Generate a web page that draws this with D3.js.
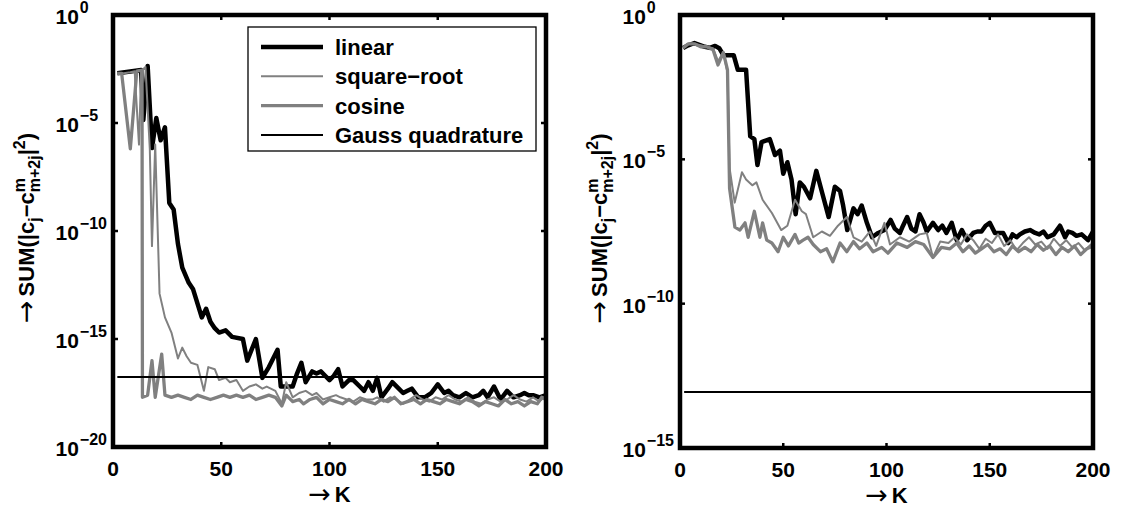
<!DOCTYPE html>
<html lang="en">
<head>
<meta charset="UTF-8">
<title>Coefficient error vs K</title>
<style>
  body { margin: 0; background: #fff; }
  svg { font-family: "Liberation Sans", Arial, sans-serif; }
</style>
</head>
<body>
<div id="chart"></div>
<script src="https://cdn.jsdelivr.net/npm/d3@7/dist/d3.min.js"></script>
<script>
// data: [K, log10(value)]
const leftLinear = [[2,-2.7],[13,-2.55],[14,-4.86],[16,-2.36],[18,-6.16],[20,-4.77],[22,-5.8],[24,-5.2],[26,-8.7],[28,-9.0],
  [30,-10.6],[32,-11.7],[35,-12.4],[37,-12.7],[41,-14.0],[43,-13.6],[45,-14.2],[47,-14.5],[49,-14.7],[52,-14.6],[55,-14.9],
  [60,-15.0],[62,-16.0],[66,-15.0],[69,-16.8],[72,-16.3],[76,-15.5],[77.5,-17.2],[81,-17.2],[83,-17.2],[85,-16.6],[87,-16.1],
  [89,-17.0],[92,-16.5],[94,-16.6],[96,-16.5],[98,-16.7],[100,-16.9],[102,-16.7],[104,-16.4],[106,-17.2],[109,-16.9],
  [111,-16.9],[114,-17.2],[116,-17.4],[118,-17.0],[120,-17.4],[122,-16.8],[124,-17.7],[127,-17.3],[129,-17.0],[132,-17.3],
  [134,-17.5],[136,-17.4],[138,-17.3],[141,-17.7],[144,-17.7],[147,-17.5],[150,-17.1],[153,-17.5],[155,-17.4],[157,-17.6],
  [160,-17.7],[163,-17.5],[166,-17.7],[169,-17.6],[171,-17.4],[173,-17.7],[176,-17.2],[179,-17.8],[182,-17.4],[185,-17.7],
  [188,-17.6],[190,-17.5],[192,-17.6],[194,-17.6],[197,-17.7],[200,-17.6]];
const leftSqrt = [[2,-2.7],[5,-2.7],[8,-2.65],[10,-2.6],[12,-6.0],[13,-2.6],[15,-2.4],[17,-6.2],[18,-10.7],[19.5,-6.0],
  [21.5,-12.9],[24,-14.0],[27,-14.7],[30,-15.9],[32,-15.4],[34,-15.8],[36,-16.1],[39,-16.2],[42,-17.4],[44,-16.3],[47,-16.4],
  [49,-16.9],[52,-16.8],[54,-17.0],[57,-16.9],[60,-17.4],[63,-17.2],[66,-17.1],[69,-17.3],[71,-17.2],[75,-17.4],[78,-18.0],
  [80,-17.0],[83,-17.7],[86,-17.5],[89,-17.4],[92,-17.6],[94,-17.5],[97,-17.8],[100,-17.7],[103,-17.6],[105,-17.7],
  [108,-17.8],[111,-17.9],[114,-17.7],[117,-17.8],[120,-17.8],[122,-17.7],[125,-17.9],[128,-17.7],[131,-17.8],[134,-18.0],
  [137,-17.8],[140,-17.6],[143,-17.8],[146,-17.9],[149,-17.7],[152,-17.8],[155,-17.6],[158,-17.8],[161,-17.9],[164,-17.7],
  [167,-17.9],[170,-18.0],[173,-17.8],[176,-17.7],[179,-17.9],[182,-17.8],[185,-17.6],[188,-17.8],[191,-17.9],[194,-17.7],
  [197,-17.9],[200,-17.6]];
const leftCosine = [[2,-2.7],[4,-2.7],[8,-6.2],[11,-2.6],[13.4,-2.55],[13.6,-17.7],[16,-17.6],[18,-16.0],[19.5,-17.7],
  [22.5,-15.7],[24,-17.6],[27,-17.7],[30,-17.6],[33,-17.7],[36,-17.8],[39,-17.6],[42,-17.7],[45,-17.8],[48,-17.7],[51,-17.6],
  [54,-17.7],[57,-17.6],[60,-17.7],[63,-17.6],[66,-17.8],[69,-17.7],[72,-17.6],[75,-17.7],[78,-18.1],[80,-17.6],[83,-17.9],
  [86,-17.8],[88,-18.0],[91,-17.8],[94,-17.7],[97,-18.0],[100,-17.8],[103,-17.9],[106,-18.0],[109,-17.8],[112,-18.0],
  [115,-17.8],[118,-17.9],[121,-18.0],[124,-17.8],[127,-17.9],[130,-17.7],[133,-18.0],[136,-17.9],[139,-17.8],[142,-18.0],
  [145,-17.8],[148,-17.9],[151,-18.0],[154,-17.8],[157,-17.9],[160,-18.0],[163,-17.8],[166,-17.9],[169,-18.1],[172,-17.9],
  [175,-18.0],[178,-18.1],[181,-17.8],[184,-18.0],[187,-17.9],[190,-18.1],[193,-17.9],[196,-18.0],[198,-17.7],[200,-17.8]];
const leftGauss = [[2,-16.76],[200,-16.76]];

const rightLinear = [[1.5,-1.14],[4,-1.05],[7,-0.97],[10,-1.05],[12,-1.1],[14.5,-1.14],[17,-1.07],[19,-1.15],[21,-1.39],
  [26,-1.39],[28,-1.9],[32,-1.9],[34,-4.2],[36,-4.3],[37.5,-5.2],[39.5,-4.4],[41.5,-4.35],[43.5,-4.3],[46,-4.85],[48.4,-4.7],
  [50,-5.5],[52,-5.1],[54,-5.7],[56,-6.9],[58,-5.8],[60,-5.95],[63,-6.35],[66,-5.4],[69,-6.2],[72,-7.0],[75,-5.95],
  [77.5,-6.1],[79,-6.6],[81,-7.45],[84,-6.7],[86,-6.9],[88,-6.6],[90.5,-7.2],[93,-7.7],[96,-7.55],[99,-7.45],[102,-7.1],
  [104,-7.4],[106.5,-7.55],[108,-7.3],[110,-7.0],[112,-7.4],[114,-7.5],[116,-6.9],[118,-7.2],[119.5,-7.5],[122.5,-7.2],
  [125,-7.45],[127,-7.3],[129,-7.55],[131.6,-7.2],[134,-7.8],[136.5,-7.45],[139,-7.8],[142,-7.55],[144,-7.5],[146,-7.5],
  [148,-7.3],[150,-7.2],[152.5,-7.55],[156.5,-7.55],[159,-7.9],[161,-7.6],[163,-7.7],[164.6,-7.6],[167,-7.5],[169.5,-7.45],
  [172,-7.55],[174,-7.6],[176,-7.5],[178,-7.7],[181,-7.6],[184,-7.3],[186.5,-7.7],[188,-7.5],[190,-7.55],[192,-7.65],
  [194.5,-7.6],[197.6,-7.8],[200,-7.5]];
const rightSqrt = [[1.5,-1.14],[4,-1.0],[7,-1.0],[10,-1.05],[13,-1.1],[16,-1.15],[18.4,-1.6],[21,-1.3],[23,-2.0],[24,-5.3],
  [26.5,-6.5],[30,-5.45],[32,-5.7],[35,-5.9],[37,-5.8],[40,-6.4],[44.5,-6.86],[49,-7.45],[52,-7.3],[55.7,-6.4],[59,-6.8],
  [61,-6.9],[64.5,-7.7],[68.7,-7.5],[72.6,-7.65],[76.5,-7.3],[80.8,-7.0],[84,-7.7],[88,-7.85],[92,-7.5],[95,-8.0],[99,-7.2],
  [101.7,-7.95],[106.5,-7.7],[111,-7.85],[116,-7.6],[119.5,-7.55],[122.5,-8.4],[126,-7.85],[130,-7.9],[133,-7.7],[136,-7.95],
  [139,-7.6],[142,-7.8],[145,-8.1],[148,-7.75],[151,-7.9],[154,-7.6],[157,-8.0],[160,-7.8],[163,-8.15],[166,-7.9],[169,-7.7],
  [172,-7.95],[175,-7.85],[178,-8.1],[181,-7.75],[184,-8.0],[187,-7.8],[190,-8.05],[193,-7.9],[196,-8.15],[199,-7.95],[200,-7.9]];
const rightCosine = [[1.5,-1.14],[4,-1.0],[7,-1.0],[10,-1.1],[13,-1.1],[16,-1.2],[18.4,-1.73],[21,-1.3],[23,-1.9],[24,-6.0],
  [26.6,-7.35],[29,-7.45],[31.5,-7.2],[33,-7.7],[36,-6.8],[38.7,-7.7],[40,-7.2],[42,-7.8],[44.5,-7.9],[47.5,-8.2],[50,-7.7],
  [52.5,-8.0],[55.7,-7.6],[57.5,-7.9],[59.6,-7.8],[62,-7.7],[64.5,-7.95],[68,-8.2],[71,-8.1],[74,-8.55],[77.5,-7.9],
  [80.8,-8.2],[84,-7.85],[87,-8.1],[90.5,-7.9],[93.5,-8.2],[97.7,-8.05],[100.7,-8.25],[105,-7.9],[110,-8.05],[114,-7.85],
  [118,-7.95],[122.5,-8.4],[126.6,-8.05],[130.7,-8.1],[134,-7.9],[137,-8.2],[140,-8.0],[143,-8.25],[146,-8.1],[149,-7.95],
  [152,-8.2],[155,-8.1],[158,-8.3],[161,-8.0],[164,-8.2],[167,-8.05],[170,-8.2],[173,-7.95],[176,-8.15],[179,-8.0],
  [182,-8.3],[185,-8.05],[188,-8.2],[191,-8.0],[194,-8.3],[197,-8.1],[200,-8.0]];
const rightGauss = [[2,-13.06],[200,-13.06]];

const legendLabels = ["linear", "square\u2212root", "cosine", "Gauss quadrature"];
const xTicks = [0, 50, 100, 150, 200];
const leftYExps = [0, -5, -10, -15, -20];
const rightYExps = [0, -5, -10, -15];

const styles = [
  {color: "#000", width: 4.5},
  {color: "#808080", width: 2},
  {color: "#808080", width: 3.3},
  {color: "#000", width: 1.8}
];

const svg = d3.select("#chart").append("svg")
  .attr("width", 1145).attr("height", 510);

const minus = s => String(s).replace("-", "\u2212");

// lays out a row of text pieces, returns its width
function rich(g, pieces) {
  let x = 0;
  pieces.forEach(p => {
    const a = g.append("text").attr("x", x).attr("y", p.dy || 0)
      .style("font-size", p.size + "px").style("font-weight", p.w || "bold").text(p.t);
    if (p.font) a.style("font-family", p.font);
    let w = a.node().getComputedTextLength();
    if (p.t2) {
      const b = g.append("text").attr("x", x).attr("y", p.dy2)
        .style("font-size", p.size + "px").style("font-weight", "bold").text(p.t2);
      w = Math.max(w, b.node().getComputedTextLength());
    }
    x += w + (p.gap || 0);
  });
  return x;
}

function centered(parent, transform, pieces) {
  const g = parent.append("g").attr("transform", transform);
  const inner = g.append("g");
  const w = rich(inner, pieces);
  inner.attr("transform", `translate(${-w / 2},0)`);
}

const arrow = {t: "\u2192", size: 27, w: "normal", font: "DejaVu Sans", dy: 1, gap: 4};
const yLabelPieces = [
  arrow,
  {t: "SUM(|c", size: 22},
  {t: "j", size: 16, dy: 6},
  {t: "\u2212c", size: 22},
  {t: "m", size: 16, dy: -9, t2: "m+2j", dy2: 6},
  {t: "|", size: 22},
  {t: "2", size: 16, dy: -9},
  {t: ")", size: 22}
];
const xLabelPieces = [arrow, {t: "K", size: 22}];

function panel(id, box, exps, series, gauss, opts) {
  const x = d3.scaleLinear().domain([0, 200]).range([box.left, box.right]);
  const y = d3.scaleLog().domain([Math.pow(10, d3.min(exps)), 1]).range([box.bottom, box.top]);
  const g = svg.append("g");

  g.append("clipPath").attr("id", id).append("rect")
    .attr("x", box.left).attr("y", box.top)
    .attr("width", box.right - box.left).attr("height", box.bottom - box.top);

  const line = d3.line().x(d => x(d[0])).y(d => y(Math.pow(10, d[1])));
  const all = series.concat([gauss]);
  all.forEach((s, i) => {
    g.append("path").datum(s)
      .attr("clip-path", `url(#${id})`)
      .attr("fill", "none")
      .attr("stroke", styles[i].color)
      .attr("stroke-width", styles[i].width)
      .attr("stroke-linejoin", "round")
      .attr("d", line);
  });

  // inward ticks on all sides
  const tl = 5;
  xTicks.slice(1, -1).forEach(t => {
    g.append("line").attr("x1", x(t)).attr("x2", x(t)).attr("y1", box.bottom).attr("y2", box.bottom - tl)
      .attr("stroke", "#000").attr("stroke-width", 2.5);
    g.append("line").attr("x1", x(t)).attr("x2", x(t)).attr("y1", box.top).attr("y2", box.top + tl)
      .attr("stroke", "#000").attr("stroke-width", 2.5);
  });
  exps.slice(1, -1).forEach(e => {
    const yy = y(Math.pow(10, e));
    g.append("line").attr("x1", box.left).attr("x2", box.left + tl).attr("y1", yy).attr("y2", yy)
      .attr("stroke", "#000").attr("stroke-width", 2.5);
    g.append("line").attr("x1", box.right).attr("x2", box.right - tl).attr("y1", yy).attr("y2", yy)
      .attr("stroke", "#000").attr("stroke-width", 2.5);
  });

  g.append("rect")
    .attr("x", box.left).attr("y", box.top)
    .attr("width", box.right - box.left).attr("height", box.bottom - box.top)
    .attr("fill", "none").attr("stroke", "#000").attr("stroke-width", 4.5);

  // x tick labels
  xTicks.forEach(t => {
    g.append("text").attr("x", x(t)).attr("y", box.bottom + 29)
      .attr("text-anchor", "middle")
      .style("font-size", "21px").style("font-weight", "bold").text(t);
  });

  // y tick labels: 10 with exponent, left-aligned column
  const labels = exps.map(e => {
    const lg = g.append("g");
    const w = rich(lg, [{t: "10", size: 21, dy: 9, gap: 1}, {t: minus(e), size: 16, dy: -2}]);
    return {lg, w, e};
  });
  const maxW = d3.max(labels, d => d.w);
  labels.forEach(d => {
    d.lg.attr("transform", `translate(${box.left - 6 - maxW},${y(Math.pow(10, d.e))})`);
  });

  centered(g, `translate(${(box.left + box.right) / 2},${box.bottom + 55})`, xLabelPieces);
  centered(g, `translate(${opts.ylabelX},${(box.top + box.bottom) / 2 - 3}) rotate(-90)`, yLabelPieces);

  return {x, y};
}

panel("clipL", {left: 113, right: 546, top: 15, bottom: 447}, leftYExps,
  [leftLinear, leftSqrt, leftCosine], leftGauss, {ylabelX: 34});
panel("clipR", {left: 680, right: 1093, top: 15, bottom: 448}, rightYExps,
  [rightLinear, rightSqrt, rightCosine], rightGauss, {ylabelX: 607});

// legend
const lg = svg.append("g");
lg.append("rect").attr("x", 248).attr("y", 27).attr("width", 288).attr("height", 124)
  .attr("fill", "#fff").attr("stroke", "#000").attr("stroke-width", 1.3);
const rowY = d3.scalePoint().domain(legendLabels).range([47, 135]);
legendLabels.forEach((name, i) => {
  const yy = rowY(name);
  lg.append("line").attr("x1", 261).attr("x2", 323).attr("y1", yy).attr("y2", yy)
    .attr("stroke", styles[i].color).attr("stroke-width", styles[i].width);
  lg.append("text").attr("x", 335).attr("y", yy + 8)
    .style("font-size", "22px").style("font-weight", "bold").text(name);
});
</script>
</body>
</html>
